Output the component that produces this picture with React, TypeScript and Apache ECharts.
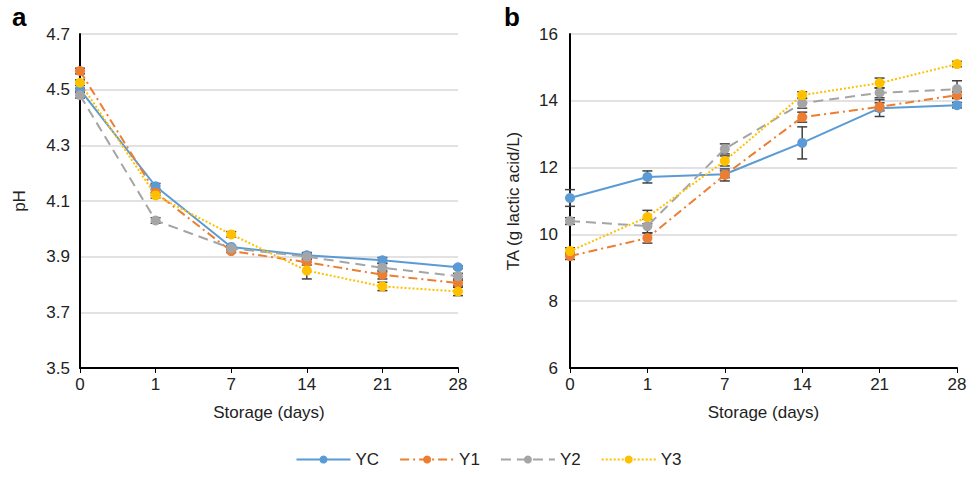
import React, { useEffect, useRef } from "react";
import * as echarts from "echarts";

const days = ["0", "1", "7", "14", "21", "28"];
const seriesNames = ["YC", "Y1", "Y2", "Y3"];

const phYC = [4.5, 4.153, 3.935, 3.905, 3.887, 3.862];
const phY1 = [4.567, 4.13, 3.92, 3.88, 3.835, 3.805];
const phY2 = [4.48, 4.03, 3.93, 3.9, 3.86, 3.83];
const phY3 = [4.525, 4.12, 3.98, 3.85, 3.793, 3.775];

const phErrYC = [0.005, 0.01, 0.005, 0.01, 0.01, 0.005];
const phErrY1 = [0.01, 0.01, 0.005, 0.01, 0.015, 0.01];
const phErrY2 = [0.01, 0.01, 0.005, 0.01, 0.015, 0.01];
const phErrY3 = [0.01, 0.01, 0.01, 0.03, 0.015, 0.015];

const taYC = [11.09, 11.72, 11.8, 12.74, 13.78, 13.87];
const taY1 = [9.35, 9.89, 11.78, 13.51, 13.82, 14.17];
const taY2 = [10.4, 10.25, 12.56, 13.93, 14.24, 14.35];
const taY3 = [9.5, 10.52, 12.2, 14.17, 14.53, 15.1];

const taErrYC = [0.25, 0.18, 0.1, 0.48, 0.25, 0.08];
const taErrY1 = [0.1, 0.15, 0.18, 0.15, 0.12, 0.1];
const taErrY2 = [0.1, 0.2, 0.15, 0.15, 0.15, 0.25];
const taErrY3 = [0.1, 0.2, 0.15, 0.1, 0.15, 0.08];

const colors = ["#5b9bd5", "#ed7d31", "#a5a5a5", "#ffc000"];
const dashes: any[] = ["solid", [9, 4, 2, 4], [10, 6], [2, 2]];

const FONT = "Liberation Sans, Arial, sans-serif";
const FS = 17;

export default function App() {
  const ref = useRef<HTMLDivElement>(null);
  useEffect(() => {
    if (!ref.current) return;
    const chart = echarts.init(ref.current, null, { renderer: "svg" });
    const phVals = [phYC, phY1, phY2, phY3];
    const phErrs = [phErrYC, phErrY1, phErrY2, phErrY3];
    const taVals = [taYC, taY1, taY2, taY3];
    const taErrs = [taErrYC, taErrY1, taErrY2, taErrY3];

    const errRender = (params: any, api: any) => {
      const x = api.value(0);
      const lo = api.coord([x, api.value(1)]);
      const hi = api.coord([x, api.value(2)]);
      const w = 5;
      const style = { stroke: "#404040", lineWidth: 1.5 };
      return {
        type: "group",
        children: [
          { type: "line", shape: { x1: lo[0], y1: lo[1], x2: hi[0], y2: hi[1] }, style },
          { type: "line", shape: { x1: lo[0] - w, y1: lo[1], x2: lo[0] + w, y2: lo[1] }, style },
          { type: "line", shape: { x1: hi[0] - w, y1: hi[1], x2: hi[0] + w, y2: hi[1] }, style },
        ],
      };
    };

    const series: any[] = [];
    [0, 1].forEach((g) => {
      const vals = g === 0 ? phVals : taVals;
      const errs = g === 0 ? phErrs : taErrs;
      seriesNames.forEach((name, i) => {
        series.push({
          type: "custom",
          name: name + " error",
          xAxisIndex: g,
          yAxisIndex: g,
          renderItem: errRender,
          data: vals[i].map((v, k) => [k, v - errs[i][k], v + errs[i][k]]),
          z: 3,
          silent: true,
          legendHoverLink: false,
        });
      });
      seriesNames.forEach((name, i) => {
        series.push({
          type: "line",
          name: name,
          xAxisIndex: g,
          yAxisIndex: g,
          data: vals[i],
          symbol: "circle",
          symbolSize: 10,
          color: colors[i],
          itemStyle: { color: colors[i] },
          lineStyle: { color: colors[i], width: 2, type: dashes[i] },
          z: 4,
        });
      });
    });

    const xAxisBase = (g: number) => ({
      type: "category",
      gridIndex: g,
      data: days,
      boundaryGap: false,
      name: "Storage (days)",
      nameLocation: "middle",
      nameGap: 36,
      nameTextStyle: { fontFamily: FONT, fontSize: FS, color: "#222" },
      axisLine: { lineStyle: { color: "#000", width: 2 } },
      axisTick: { show: true, length: 5, alignWithLabel: true, lineStyle: { color: "#000" } },
      axisLabel: { fontFamily: FONT, fontSize: FS, color: "#222", margin: 8 },
      splitLine: { show: false },
    });

    const option: any = {
      animation: false,
      backgroundColor: "#fff",
      grid: [
        { left: 80, right: 519, top: 34, bottom: 109 },
        { left: 570, right: 20, top: 34, bottom: 109 },
      ],
      xAxis: [xAxisBase(0), xAxisBase(1)],
      yAxis: [
        {
          type: "value",
          gridIndex: 0,
          min: 3.5,
          max: 4.7,
          interval: 0.2,
          name: "pH",
          nameLocation: "middle",
          nameGap: 52,
          nameTextStyle: { fontFamily: FONT, fontSize: FS, color: "#222" },
          axisLine: { show: true, lineStyle: { color: "#000", width: 2 } },
          axisTick: { show: false },
          axisLabel: { fontFamily: FONT, fontSize: FS, color: "#222", margin: 10, formatter: (v: number) => v.toFixed(1) },
          splitLine: { lineStyle: { color: "#d9d9d9", width: 1.5 } },
        },
        {
          type: "value",
          gridIndex: 1,
          min: 6,
          max: 16,
          interval: 2,
          name: "TA (g lactic acid/L)",
          nameLocation: "middle",
          nameGap: 48,
          nameTextStyle: { fontFamily: FONT, fontSize: FS, color: "#222" },
          axisLine: { show: true, lineStyle: { color: "#000", width: 2 } },
          axisTick: { show: false },
          axisLabel: { fontFamily: FONT, fontSize: FS, color: "#222", margin: 12 },
          splitLine: { lineStyle: { color: "#d9d9d9", width: 1.5 } },
        },
      ],
      legend: {
        data: seriesNames,
        bottom: 4,
        left: "center",
        itemWidth: 54,
        itemHeight: 10,
        itemGap: 20,
        textStyle: { fontFamily: FONT, fontSize: FS, color: "#222" },
      },
      graphic: [
        { type: "text", left: 12, top: 4, style: { text: "a", font: "bold 26px " + FONT, fill: "#000" } },
        { type: "text", left: 504, top: 4, style: { text: "b", font: "bold 26px " + FONT, fill: "#000" } },
      ],
      series,
    };
    chart.setOption(option);
    return () => chart.dispose();
  }, []);
  return (
    <div
      ref={ref}
      style={{ position: "fixed", left: 0, top: 0, width: 977, height: 477 }}
    />
  );
}
